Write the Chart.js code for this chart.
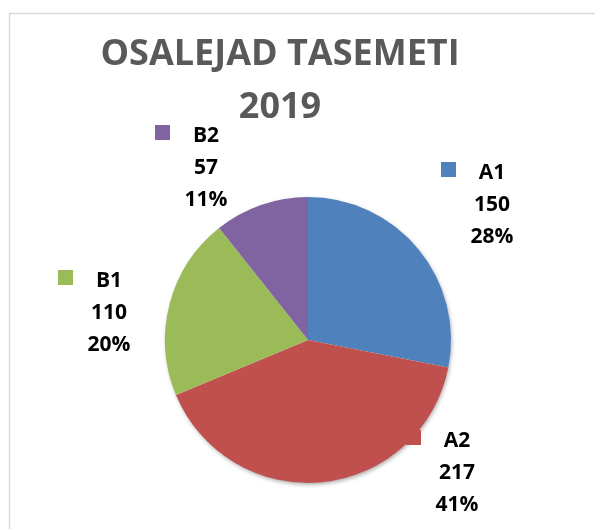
<!DOCTYPE html>
<html>
<head>
<meta charset="utf-8">
<script src="https://cdn.jsdelivr.net/npm/chart.js@4"></script>
<style>
  html, body { margin: 0; padding: 0; background: #fff; }
  #wrap { width: 595px; height: 529px; }
</style>
</head>
<body>
<div id="wrap"><canvas id="pie" width="595" height="529"></canvas></div>
<script>
// --- data ---
const categories = ["A1", "A2", "B1", "B2"];
const participants = [150, 217, 110, 57];
const percentLabels = ["28%", "41%", "20%", "11%"];
const titleLines = ["OSALEJAD TASEMETI", "2019"];

// --- look ---
const sliceColors = ["#4F81BD", "#C0504D", "#9BBB59", "#8064A2"];
// label anchor: [center x, first baseline]
const labelAnchors = [[492, 179], [457, 447], [109, 287], [206, 142]];

const frameAndText = {
  id: "frameAndText",
  beforeDraw(chart) {
    const ctx = chart.ctx;
    ctx.save();
    ctx.fillStyle = "#fff";
    ctx.fillRect(0, 0, chart.width, chart.height);
    ctx.strokeStyle = "#d9d9d9";
    ctx.lineWidth = 1.5;
    ctx.strokeRect(9.5, 13.5, 700, 700);
    ctx.restore();
  },
  beforeDatasetsDraw(chart) {
    // soft shadow under the pie
    const arc = chart.getDatasetMeta(0).data[0];
    if (!arc) return;
    const ctx = chart.ctx;
    ctx.save();
    ctx.shadowColor = "rgba(0,0,0,0.35)";
    ctx.shadowBlur = 4;
    ctx.shadowOffsetX = 1;
    ctx.shadowOffsetY = 2;
    ctx.fillStyle = "#fff";
    ctx.beginPath();
    ctx.arc(arc.x, arc.y, arc.outerRadius - 0.5, 0, Math.PI * 2);
    ctx.fill();
    ctx.restore();
  },
  afterDraw(chart) {
    const ctx = chart.ctx;
    ctx.save();
    // title
    ctx.fillStyle = "#595959";
    ctx.font = "bold 36px 'Open Sans'";
    ctx.textAlign = "center";
    ctx.textBaseline = "alphabetic";
    ctx.fillText(titleLines[0], 280, 65);
    ctx.fillText(titleLines[1], 280, 118);

    // data labels
    ctx.font = "bold 21px 'Open Sans'";
    categories.forEach((cat, i) => {
      const [cx, by] = labelAnchors[i];
      ctx.fillStyle = sliceColors[i];
      ctx.fillRect(cx - 51, by - 17, 15, 15);
      ctx.fillStyle = "#000";
      ctx.fillText(cat, cx, by);
      ctx.fillText(String(participants[i]), cx, by + 32);
      ctx.fillText(percentLabels[i], cx, by + 64);
    });
    ctx.restore();
  }
};

new Chart(document.getElementById("pie"), {
  type: "pie",
  data: {
    labels: categories,
    datasets: [{
      data: participants,
      backgroundColor: sliceColors,
      borderWidth: 0
    }]
  },
  options: {
    responsive: false,
    animation: false,
    layout: { padding: { top: 197, bottom: 46, left: 165, right: 144 } },
    plugins: {
      legend: { display: false },
      tooltip: { enabled: false },
      title: { display: false }
    }
  },
  plugins: [frameAndText]
});
</script>
</body>
</html>
